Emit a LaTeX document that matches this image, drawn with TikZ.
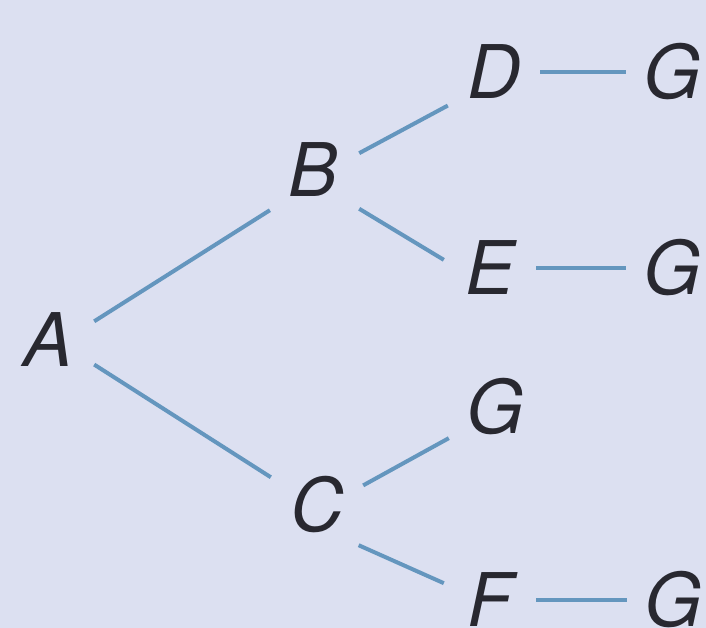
\documentclass[tikz,border=0pt]{standalone}
\usepackage{fontspec}
\setsansfont{TeX Gyre Heros}
\usepackage{tikz}
\definecolor{bgblue}{RGB}{220,224,241}
\definecolor{branchblue}{RGB}{100,150,190}
\definecolor{letter}{RGB}{40,40,48}

\begin{document}
\begin{tikzpicture}[x=1pt,y=-1pt,
    vertex/.style={rectangle,inner sep=0pt,minimum width=92pt,minimum height=80pt,text=letter,font=\sffamily\itshape\fontsize{74}{74}\selectfont},
    branch/.style={draw=branchblue,line width=4pt}]
    % Background
    \useasboundingbox (0,0) rectangle (706,628);
    \fill[bgblue] (0,0) rectangle (706,628);

    % Outcomes
    \foreach \name/\lbl/\x/\y in {A/A/48/340, B/B/313/170, C/C/317/505,
        D/D/494/72, E/E/490/268, F/F/490/600,
        G1/G/672/72, G2/G/672/268, G3/G/495/407, G4/G/673/600} {
        \node[vertex] (\name) at (\x,\y) {\lbl};
    }

    % Branches
    \foreach \from/\to in {A.22/B.223, A.332/C.149, B.20/D.216, B.320/E.170,
        C.23/G3.214, C.316/F.160, D.0/G1.180, E.0/G2.180, F.0/G4.180} {
        \draw[branch] (\from) -- (\to);
    }
\end{tikzpicture}
\end{document}
